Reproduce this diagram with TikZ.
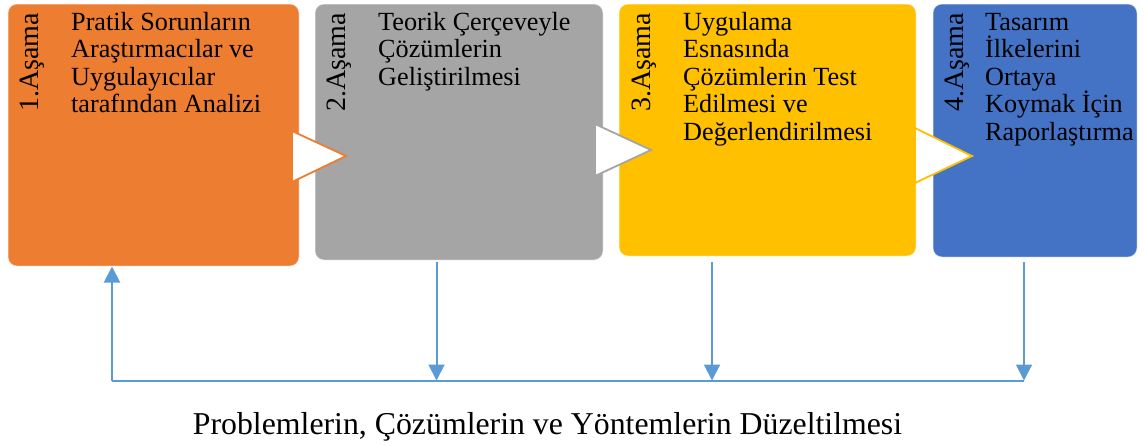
\documentclass[tikz,border=0pt]{standalone}
\usepackage{fontspec}
\setmainfont{Liberation Serif}
\usetikzlibrary{arrows.meta}

\definecolor{stageorange}{HTML}{ED7D31}
\definecolor{stagegray}{HTML}{A5A5A5}
\definecolor{stageyellow}{HTML}{FFC000}
\definecolor{stageblue}{HTML}{4472C4}
\definecolor{flowblue}{HTML}{5B9BD5}

\tikzset{
  stagebox/.style={draw=white, draw opacity=0.45, line width=1pt,
    rounded corners=9pt, inner sep=0pt},
  stagelabel/.style={rotate=90, anchor=base east, inner sep=0pt,
    font=\fontsize{28}{30}\selectfont},
  % multi-line nodes: the base anchor sits on the last line
  stagetext/.style={anchor=base west, inner sep=0pt, align=left,
    font=\fontsize{26.2}{27.6}\selectfont},
  chevron/.style={fill=white, line width=1.8pt, line join=miter},
  flow/.style={draw=flowblue, line width=2pt},
  flowarrow/.style={flow, -{Triangle[width=16pt,length=16pt]}, color=flowblue},
}

\begin{document}
\begin{tikzpicture}[x=1pt, y=-1pt]
\useasboundingbox (0,0) rectangle (1145,445);

% stage boxes
\node[stagebox, fill=stageorange, minimum width=291pt, minimum height=262pt] (b1) at (153.5,135) {};
\node[stagebox, fill=stagegray,   minimum width=288pt, minimum height=256pt] (b2) at (459,132) {};
\node[stagebox, fill=stageyellow, minimum width=297pt, minimum height=252pt] (b3) at (767.5,130) {};
\node[stagebox, fill=stageblue,   minimum width=204pt, minimum height=253pt] (b4) at (1035,130.5) {};

% chevrons between stages
\draw[chevron, draw=stageorange] (292,131) -- (346,156) -- (292,182) -- cycle;
\draw[chevron, draw=stagegray]   (595,124) -- (651,150) -- (595,176) -- cycle;
\draw[chevron, draw=stageyellow] (915,128) -- (972,156) -- (915,183) -- cycle;

% stage numbers
\node[stagelabel] (l1) at (38,13)  {1.Aşama};
\node[stagelabel] (l2) at (345,13) {2.Aşama};
\node[stagelabel] (l3) at (650,13) {3.Aşama};
\node[stagelabel] (l4) at (963,13) {4.Aşama};

% stage descriptions (positioned by the baseline of their last line)
\node[stagetext] (s1) at (71,112.8)  {Pratik Sorunların\\Araştırmacılar ve\\Uygulayıcılar\\tarafından Analizi};
\node[stagetext] (s2) at (378,85.2)  {Teorik Çerçeveyle\\Çözümlerin\\Geliştirilmesi};
\node[stagetext] (s3) at (683,140.4) {Uygulama\\Esnasında\\Çözümlerin Test\\Edilmesi ve\\Değerlendirilmesi};
\node[stagetext] (s4) at (985,140.4) {Tasarım\\İlkelerini\\Ortaya\\Koymak İçin\\Raporlaştırma};

% feedback loop
\coordinate (r1) at (112,380.5);
\coordinate (r2) at (436.5,380.5);
\coordinate (r3) at (712,380.5);
\coordinate (r4) at (1024,380.5);
\draw[flow] (r1) -- (r4);
\draw[flowarrow] (r1) -- (b1.south -| r1);
\draw[flowarrow, shorten <=1pt] (b2.south -| r2) -- (r2);
\draw[flowarrow, shorten <=5pt] (b3.south -| r3) -- (r3);
\draw[flowarrow, shorten <=4pt] (b4.south -| r4) -- (r4);

\node[anchor=base, inner sep=0pt, font=\fontsize{31.8}{34}\selectfont] (cap) at (547.5,434)
  {Problemlerin, Çözümlerin ve Yöntemlerin Düzeltilmesi};
\end{tikzpicture}
\end{document}
